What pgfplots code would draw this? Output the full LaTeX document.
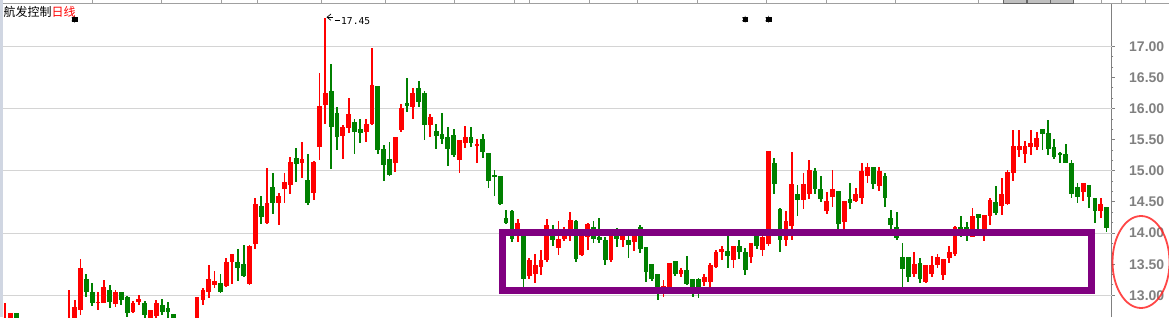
\documentclass[border=0pt]{standalone}
\usepackage{pgfplots}
\pgfplotsset{compat=1.18}
\usepackage{pgfplotstable}
\usepackage{fontspec}
\setmainfont{Liberation Sans}
\newfontfamily\cjk{Noto Sans CJK SC}
\newfontfamily\monofont{DejaVu Sans Mono}
\definecolor{kred}{RGB}{255,0,0}
\definecolor{kgreen}{RGB}{0,128,0}
\definecolor{kpurple}{RGB}{128,0,128}
\definecolor{axgray}{RGB}{128,128,128}
\definecolor{gridgray}{RGB}{212,212,212}
\definecolor{leftbar}{RGB}{208,214,226}
\definecolor{topgray}{RGB}{160,160,160}

\pgfplotstableread{
x o h l c
0 12.40 12.88 12.35 12.60
1 12.55 12.72 12.50 12.72
4 12.45 12.55 12.35 12.50
7 12.35 12.48 12.30 12.45
9 12.40 12.55 12.35 12.50
10 12.50 12.60 12.42 12.55
11 12.50 13.08 12.40 12.60
12 12.60 12.93 12.50 12.81
13 12.76 13.59 12.68 13.44
16 12.88 13.05 12.76 12.90
17 12.88 13.24 12.87 13.14
19 12.86 13.08 12.81 13.05
22 12.73 12.91 12.71 12.87
23 12.89 13.00 12.84 12.94
25 12.55 12.76 12.50 12.76
26 12.67 12.92 12.60 12.88
31 12.45 12.55 12.35 12.50
32 12.50 12.60 12.42 12.55
33 12.55 12.98 12.50 12.98
34 12.93 13.12 12.84 13.08
35 13.05 13.48 12.96 13.26
36 13.16 13.39 13.11 13.23
38 13.15 13.60 13.14 13.53
39 13.54 13.66 13.18 13.66
42 13.18 13.81 13.16 13.79
43 13.82 14.56 13.74 14.47
45 14.17 15.04 14.15 14.49
47 14.49 14.64 14.13 14.59
48 14.71 14.97 14.49 14.82
49 14.78 15.22 14.63 15.15
51 15.12 15.46 14.89 15.19
53 14.65 15.16 14.53 15.15
54 15.38 16.57 15.18 16.05
55 16.06 17.45 15.76 16.25
58 15.56 15.73 15.19 15.71
59 15.69 16.17 15.61 15.92
62 15.62 15.83 15.47 15.76
63 15.75 16.98 15.74 16.38
67 15.12 15.55 14.99 15.55
68 15.65 16.08 15.63 16.01
70 16.02 16.33 15.84 16.25
73 15.73 15.91 15.55 15.86
78 15.17 15.49 14.96 15.49
79 15.45 15.72 15.37 15.54
81 15.40 15.51 15.12 15.44
88 13.95 14.23 13.86 14.16
90 13.31 13.60 13.27 13.57
91 13.34 13.67 13.19 13.49
92 13.46 13.73 13.32 13.57
93 13.57 14.22 13.53 14.13
95 13.76 14.19 13.65 13.90
96 13.90 14.09 13.88 14.07
97 14.00 14.34 13.88 14.21
99 13.65 14.00 13.63 13.97
100 13.94 14.17 13.73 14.15
104 13.56 13.96 13.54 13.96
106 13.89 13.96 13.78 13.95
108 13.86 13.96 13.71 13.95
113 13.05 13.25 12.98 13.15
114 13.05 13.52 13.03 13.52
116 13.35 13.44 13.30 13.41
120 13.22 13.34 13.15 13.29
121 13.22 13.52 13.13 13.48
122 13.45 13.73 13.44 13.70
123 13.69 13.79 13.56 13.74
125 13.56 13.80 13.44 13.80
128 13.62 13.84 13.52 13.84
130 13.73 13.96 13.63 13.94
131 13.82 15.32 13.80 15.32
134 13.89 14.35 13.80 14.19
135 14.12 15.30 13.89 14.79
137 14.54 14.97 14.39 14.79
138 14.63 15.18 14.55 15.02
141 14.36 14.66 14.31 14.51
142 14.58 15.02 14.42 14.71
144 14.18 14.51 14.07 14.51
146 14.52 14.72 14.50 14.63
147 14.57 15.13 14.47 15.00
148 14.91 15.13 14.81 15.06
150 14.76 15.06 14.68 15.00
156 13.35 13.69 13.29 13.50
158 13.22 13.49 13.19 13.49
159 13.34 13.63 13.29 13.49
160 13.49 13.66 13.44 13.62
161 13.33 13.59 13.25 13.59
162 13.60 13.79 13.52 13.70
163 13.66 14.11 13.63 14.10
166 13.94 14.40 13.93 14.27
168 14.00 14.29 13.88 14.29
169 14.27 14.57 14.13 14.54
171 14.44 14.89 14.29 14.63
172 14.46 15.02 14.45 14.98
173 14.96 15.66 14.83 15.40
174 15.33 15.66 15.23 15.40
175 15.27 15.48 15.12 15.40
176 15.39 15.66 15.25 15.45
177 15.39 15.62 15.34 15.53
185 14.66 14.80 14.52 14.80
188 14.36 14.56 14.24 14.46
}\up

\pgfplotstableread{
x o h l c
2 12.72 12.72 12.50 12.55
3 12.55 12.60 12.40 12.45
5 12.50 12.58 12.38 12.42
6 12.42 12.50 12.30 12.35
8 12.45 12.52 12.35 12.40
14 13.26 13.35 12.97 13.05
15 13.06 13.19 12.82 12.87
18 13.09 13.16 12.80 12.89
20 13.05 13.05 12.85 12.92
21 12.98 12.99 12.65 12.71
24 12.87 12.91 12.60 12.69
27 12.84 12.94 12.68 12.73
28 12.79 12.90 12.60 12.73
29 12.70 12.70 12.50 12.60
30 12.60 12.62 12.40 12.45
37 13.19 13.35 13.04 13.06
40 13.53 13.74 13.23 13.44
41 13.51 13.81 13.30 13.31
44 14.43 14.59 14.15 14.26
46 14.74 14.96 14.31 14.48
50 15.20 15.37 14.82 15.11
52 14.85 15.27 14.45 14.49
56 16.28 16.72 15.03 15.70
57 15.93 16.02 15.34 15.55
60 15.78 15.83 15.27 15.63
61 15.67 15.83 15.45 15.61
64 16.37 16.37 15.27 15.33
65 15.35 15.41 14.84 15.10
66 15.19 15.46 14.91 14.93
69 16.09 16.50 15.95 16.05
71 16.33 16.44 16.03 16.10
72 16.26 16.29 15.49 15.73
74 15.64 15.75 15.35 15.56
75 15.59 15.93 15.44 15.51
76 15.54 15.70 15.08 15.35
77 15.57 15.68 15.23 15.26
80 15.54 15.70 15.39 15.45
82 15.51 15.60 15.20 15.31
83 15.28 15.29 14.72 14.84
84 14.93 15.02 14.59 14.90
85 14.92 14.92 14.45 14.47
86 14.24 14.37 14.15 14.17
87 14.35 14.37 13.86 13.91
89 13.97 13.98 13.14 13.26
94 13.97 14.13 13.80 13.89
98 14.20 14.21 13.54 13.59
101 14.09 14.19 13.84 13.91
102 13.93 14.24 13.84 13.89
103 13.89 13.93 13.48 13.56
105 13.96 14.08 13.78 13.91
107 13.89 13.96 13.60 13.81
109 14.09 14.13 13.68 13.74
110 13.77 13.77 13.22 13.38
111 13.51 13.51 13.23 13.27
112 13.34 13.34 12.92 13.05
115 13.55 13.55 13.31 13.35
117 13.41 13.63 13.16 13.18
118 13.26 13.26 12.97 13.08
119 13.27 13.28 12.95 13.08
124 13.72 13.96 13.44 13.63
126 13.80 13.89 13.58 13.70
127 13.70 13.76 13.33 13.40
129 13.95 14.00 13.74 13.79
132 15.13 15.21 14.63 14.79
133 14.39 14.40 13.69 13.89
136 14.63 14.77 14.27 14.54
139 15.00 15.05 14.63 14.71
140 14.71 14.92 14.50 14.55
143 14.68 14.68 14.07 14.14
145 14.55 14.81 14.39 14.48
149 15.06 15.06 14.71 14.79
151 14.92 14.97 14.42 14.56
152 14.24 14.37 14.06 14.13
153 14.10 14.34 13.89 13.92
154 13.61 13.84 13.14 13.42
155 13.61 13.61 13.21 13.30
157 13.52 13.60 13.20 13.27
164 14.10 14.28 13.93 14.05
165 14.10 14.18 13.88 14.02
167 14.31 14.31 14.05 14.25
170 14.50 14.76 14.29 14.32
178 15.67 15.67 15.33 15.59
179 15.61 15.82 15.26 15.35
180 15.39 15.51 15.19 15.23
181 15.29 15.31 15.13 15.26
182 15.27 15.43 15.13 15.13
183 15.13 15.17 14.56 14.63
184 14.74 14.80 14.48 14.58
186 14.77 14.77 14.41 14.58
187 14.56 14.56 14.16 14.36
189 14.42 14.42 14.01 14.08
}\down

\begin{document}
\begin{tikzpicture}[x=1pt,y=1pt]
\useasboundingbox (0,0) rectangle (1169,317);
\fill[white] (0,0) rectangle (1169,317);
\begin{axis}[
  at={(3pt,0pt)}, anchor=south west,
  scale only axis, width=1109pt, height=314pt,
  xmin=-0.29, xmax=189.93, ymin=12.651, ymax=17.699,
  axis x line=none, axis y line*=right,
  axis line style={draw=axgray, line width=1pt},
  ytick={13,13.5,14,14.5,15,15.5,16,16.5,17},
  minor y tick num=2,
  tick align=outside,
  major tick length=3pt, minor tick length=1.5pt,
  tick style={draw=axgray, line width=1pt},
  yticklabel style={font=\bfseries\fontsize{14}{14}\selectfont, text=axgray, anchor=west, inner sep=0pt, xshift=14pt,
    /pgf/number format/fixed, /pgf/number format/fixed zerofill, /pgf/number format/precision=2,
    /pgf/number format/assume math mode=true},
  extra y ticks={13,14,15,16,17},
  extra y tick labels={},
  extra y tick style={grid=major, major tick length=0pt},
  major grid style={draw=gridgray, line width=1pt},
  clip=true,
]
% wicks
\addplot[draw=none, forget plot, error bars/.cd, y dir=both, y explicit, error mark=none,
  error bar style={draw=kred, line width=1.8pt, solid}]
  table[x=x, y expr={(\thisrow{h}+\thisrow{l})/2}, y error expr={(\thisrow{h}-\thisrow{l})/2}] {\up};
\addplot[draw=none, forget plot, error bars/.cd, y dir=both, y explicit, error mark=none,
  error bar style={draw=kgreen, line width=1.8pt, solid}]
  table[x=x, y expr={(\thisrow{h}+\thisrow{l})/2}, y error expr={(\thisrow{h}-\thisrow{l})/2}] {\down};
% bodies
\addplot[draw=none, forget plot, error bars/.cd, y dir=both, y explicit, error mark=none,
  error bar style={draw=kred, line width=4.8pt, solid}]
  table[x=x, y expr={(\thisrow{o}+\thisrow{c})/2}, y error expr={max(abs(\thisrow{c}-\thisrow{o})/2,0.009)}] {\up};
\addplot[draw=none, forget plot, error bars/.cd, y dir=both, y explicit, error mark=none,
  error bar style={draw=kgreen, line width=4.8pt, solid}]
  table[x=x, y expr={(\thisrow{o}+\thisrow{c})/2}, y error expr={max(abs(\thisrow{c}-\thisrow{o})/2,0.009)}] {\down};
% star markers
\addplot[only marks, mark=square*, mark size=2.3pt, black] coordinates {(12,17.437) (127,17.437) (131,17.437)};
\addplot[only marks, mark=asterisk, mark size=3.4pt, black, line width=0.6pt] coordinates {(12,17.437) (127,17.437) (131,17.437)};
\end{axis}
% left bar
\fill[leftbar] (0,0) rectangle (3,317);
% top border and separators
\draw[topgray, line width=1pt] (3,313.7) -- (1169,313.7);
\foreach \tx in {92.7,161.7,221.7,257.7,321.7,385.7,454.7,514.7,529.7,589.7,637.7,697.7,766.7,826.7,895.7,978.3,1101.7,1121.7,1145}
  \draw[topgray, line width=0.8pt] (\tx,313.7) -- (\tx,317);
\foreach \bx in {1003.3,1027.3,1050.3}
  \draw[fill=black!25, draw=black!60, line width=0.6pt] (\bx,313.5) rectangle ++(22.5,4);
% purple rectangle
\draw[kpurple, line width=6.7pt] (502.3,26.7) rectangle (1091.5,84.7);
% red ellipse
\draw[kred!85!white, line width=1.8pt, opacity=0.85] (1141,55) ellipse [x radius=28.5, y radius=46];
% title
\node[anchor=west, inner sep=0pt] at (3.5,305.5) {\cjk\fontsize{12}{12}\selectfont 航发控制\textcolor{kred}{日线}};
% high annotation
\draw[black, line width=0.7pt] (331,303) -- (327,299.8) -- (331,296.6);
\draw[black, line width=0.7pt] (327,299.8) -- (333,299.8);
\draw[black, line width=0.7pt] (334.5,296.8) -- (340,296.8);
\node[anchor=base west, inner sep=0pt] at (341,292.8) {\monofont\fontsize{9.6}{10}\selectfont 17.45};
\end{tikzpicture}
\end{document}
